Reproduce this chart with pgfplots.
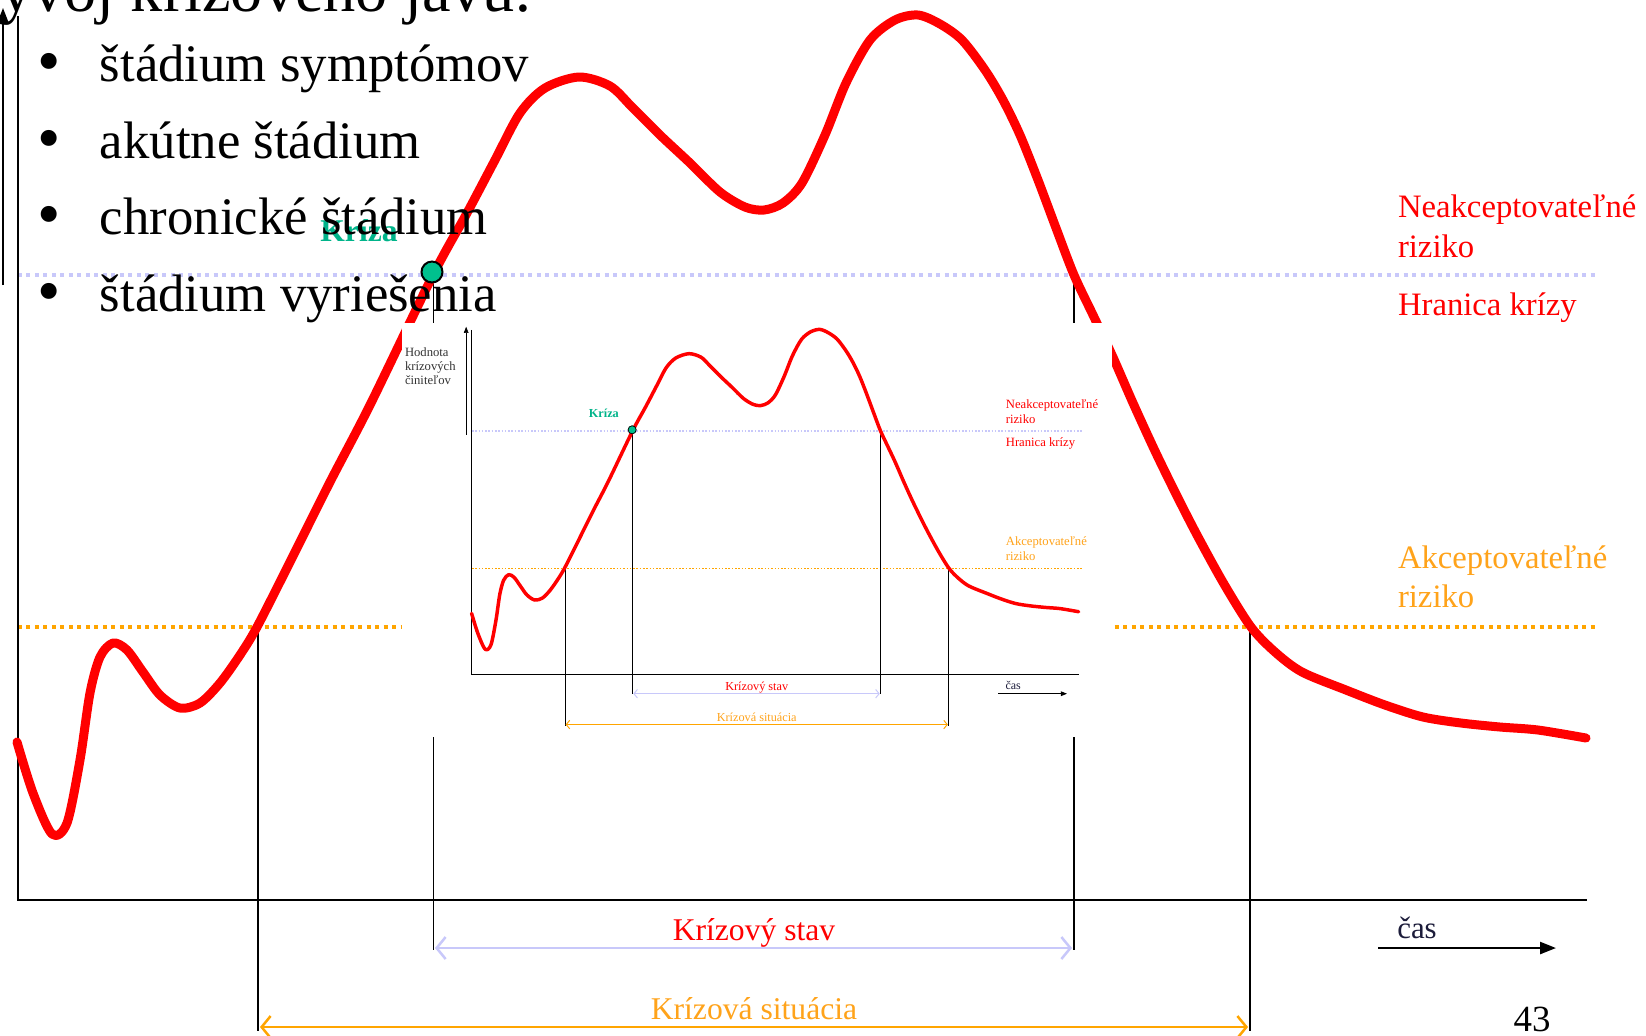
\documentclass[border=0pt]{standalone}
\usepackage{fontspec}
\setmainfont{Liberation Serif}
\usepackage{pgfplots}
\pgfplotsset{compat=1.18}
\usepackage{pgfplotstable}
\usetikzlibrary{arrows.meta}
\definecolor{cred}{HTML}{FF0000}
\definecolor{corange}{HTML}{FFA500}
\definecolor{corangetext}{HTML}{FFA31A}
\definecolor{clav}{HTML}{C8C8FA}
\definecolor{cgreen}{HTML}{00C08E}
\definecolor{cgreentext}{HTML}{00B48A}
\definecolor{cnavy}{HTML}{1C1C3A}
\definecolor{cdark}{HTML}{333333}

\pgfplotstableread{
x y
17 742
33 793
52 834
67 823
80 760
90 693
100 657
113 643
127 650
143 672
160 695
180 708
200 703
220 683
240 655
257 627
290 562
330 482
370 405
433 275
467 213
495 160
520 113
545 88
579 77
610 86
632 107
660 135
690 163
720 192
745 207
764 210
783 203
802 183
825 135
846 83
870 40
895 20
918 15
940 24
962 40
985 70
1003 100
1020 135
1038 180
1056 228
1074 275
1093 315
1112 355
1133 403
1155 451
1176 494
1197 535
1224 584
1251 627
1275 652
1302 672
1346 690
1385 705
1423 717
1461 723
1500 727
1538 730
1586 738
}\crisiscurve

\newcommand\drawchart{%
  \pgfmathsetmacro\u{0.28453*\chartscale}%
  \pgfmathsetlengthmacro\LWred{9*\u pt}%
  \pgfmathsetlengthmacro\LWdot{4*\u pt}%
  \pgfmathsetlengthmacro\DOn{4*\u pt}%
  \pgfmathsetlengthmacro\DOff{4.5*\u pt}%
  \pgfmathsetlengthmacro\LWax{2.5*\u pt}%
  \pgfmathsetlengthmacro\LWv{1.6*\u pt}%
  \pgfmathsetlengthmacro\LWarr{2.5*\u pt}%
  \pgfmathsetlengthmacro\ALen{9*\u pt}%
  \pgfmathsetlengthmacro\AWid{22*\u pt}%
  \pgfmathsetlengthmacro\TLen{16*\u pt}%
  \pgfmathsetlengthmacro\TWid{12*\u pt}%
  \pgfmathsetlengthmacro\Rdot{10.5*\u pt}%
  \pgfmathsetlengthmacro\LWdotb{2*\u pt}%
  % threshold lines
  \addplot[clav, line width=\LWdot, dash pattern=on \DOn off \DOff] coordinates {(18,275) (1596,275)};
  \addplot[corange, line width=\LWdot, dash pattern=on \DOn off \DOff] coordinates {(18,627) (1596,627)};
  % axes
  \addplot[black, line width=\LWax] coordinates {(18,16) (18,900) (1587,900)};
  \addplot[black, line width=\LWv, -{Triangle[length=\TLen,width=\TWid]}] coordinates {(3,285) (3,8)};
  % vertical markers
  \addplot[black, line width=\LWv] coordinates {(258,627) (258,1031)};
  \addplot[black, line width=\LWv] coordinates {(433.5,275) (433.5,950)};
  \addplot[black, line width=\LWv] coordinates {(1074,275) (1074,950)};
  \addplot[black, line width=\LWv] coordinates {(1250,627) (1250,1031)};
  % span arrows
  \addplot[clav, line width=\LWarr, {Straight Barb[length=\ALen,width=\AWid]}-{Straight Barb[length=\ALen,width=\AWid]}] coordinates {(435,948) (1072,948)};
  \addplot[corange, line width=\LWarr, {Straight Barb[length=\ALen,width=\AWid]}-{Straight Barb[length=\ALen,width=\AWid]}] coordinates {(260,1027) (1248,1027)};
  % time arrow
  \addplot[black, line width=\LWax, -{Triangle[length=\TLen,width=\TWid]}] coordinates {(1378,948) (1556,948)};
  % red curve
  \addplot[cred, line width=\LWred, smooth, line cap=round, line join=round] table {\crisiscurve};
  % crisis point
  \addplot[only marks, mark=*, mark size=\Rdot, mark options={fill=cgreen, draw=black, line width=\LWdotb}] coordinates {(432,272)};
  % labels
  \node[scale=\chartscale, anchor=center, text=cgreentext, font=\bfseries\fontsize{9}{10}\selectfont] at (axis cs:359,231) {Kríza};
  \node[scale=\chartscale, anchor=base west, text=cred, font=\fontsize{9.3}{11}\selectfont] at (axis cs:1398,217) {Neakceptovateľné};
  \node[scale=\chartscale, anchor=base west, text=cred, font=\fontsize{9.3}{11}\selectfont] at (axis cs:1398,257) {riziko};
  \node[scale=\chartscale, anchor=base west, text=cred, font=\fontsize{9.3}{11}\selectfont] at (axis cs:1398,315) {Hranica krízy};
  \node[scale=\chartscale, anchor=base west, text=corangetext, font=\fontsize{9.3}{11}\selectfont] at (axis cs:1398,568) {Akceptovateľné};
  \node[scale=\chartscale, anchor=base west, text=corangetext, font=\fontsize{9.3}{11}\selectfont] at (axis cs:1398,607) {riziko};
  \node[scale=\chartscale, anchor=base, text=cred, font=\fontsize{9}{11}\selectfont] at (axis cs:754,940) {Krízový stav};
  \node[scale=\chartscale, anchor=base, text=corangetext, font=\fontsize{9}{11}\selectfont] at (axis cs:754,1019) {Krízová situácia};
  \node[scale=\chartscale, anchor=base, text=cnavy, font=\fontsize{8.8}{11}\selectfont] at (axis cs:1417,938) {čas};
  \ifdim\chartscale pt<0.9pt
  \node[scale=\chartscale, anchor=base west, text=cdark, font=\fontsize{9.3}{11}\selectfont] at (axis cs:-155,83) {Hodnota};
  \node[scale=\chartscale, anchor=base west, text=cdark, font=\fontsize{9.3}{11}\selectfont] at (axis cs:-155,121) {krízových};
  \node[scale=\chartscale, anchor=base west, text=cdark, font=\fontsize{9.3}{11}\selectfont] at (axis cs:-155,155) {činiteľov};
  \fi
}

\begin{document}
\begin{tikzpicture}[every node/.append style={inner sep=0pt, outer sep=0pt}]
\useasboundingbox (0,0) rectangle (16.46cm,10.35cm);
\clip (0,0) rectangle (16.46cm,10.35cm);
\fill[white] (0,0) rectangle (16.46cm,10.35cm);
% main (enlarged) chart
\begin{axis}[at={(0,0)}, anchor=south west, width=16.46cm, height=10.35cm,
  scale only axis, xmin=0, xmax=1646, ymin=0, ymax=1035, y dir=reverse,
  hide axis, clip=false]
  \def\chartscale{1}
  \drawchart
  % white panel holding the small original chart
  \fill[white] (axis cs:402,323) rectangle (axis cs:1112,737);
  % slide text
  \node[anchor=base west, font=\fontsize{18.3}{22}\selectfont] at (axis cs:-46,11) {Vývoj krízového javu:};
  \node[anchor=base, font=\fontsize{19}{22}\selectfont] at (axis cs:49,83) {•};
  \node[anchor=base, font=\fontsize{19}{22}\selectfont] at (axis cs:49,160) {•};
  \node[anchor=base, font=\fontsize{19}{22}\selectfont] at (axis cs:49,236) {•};
  \node[anchor=base, font=\fontsize{19}{22}\selectfont] at (axis cs:49,313) {•};
  \node[anchor=base west, font=\fontsize{15}{18}\selectfont] at (axis cs:100,81) {štádium symptómov};
  \node[anchor=base west, font=\fontsize{15}{18}\selectfont] at (axis cs:100,158) {akútne štádium};
  \node[anchor=base west, font=\fontsize{15}{18}\selectfont] at (axis cs:100,234) {chronické štádium};
  \node[anchor=base west, font=\fontsize{15}{18}\selectfont] at (axis cs:100,311) {štádium vyriešenia};
  \node[anchor=base, font=\fontsize{10.5}{12}\selectfont] at (axis cs:1532,1031) {43};
\end{axis}
% small original chart
\begin{axis}[at={(4.650cm,7.114cm)}, anchor=north west, width=6.3685cm, height=4.0406cm,
  scale only axis, xmin=0, xmax=1646, ymin=0, ymax=1035, y dir=reverse,
  hide axis, clip=false]
  \def\chartscale{0.3869}
  \drawchart
\end{axis}
\end{tikzpicture}
\end{document}
